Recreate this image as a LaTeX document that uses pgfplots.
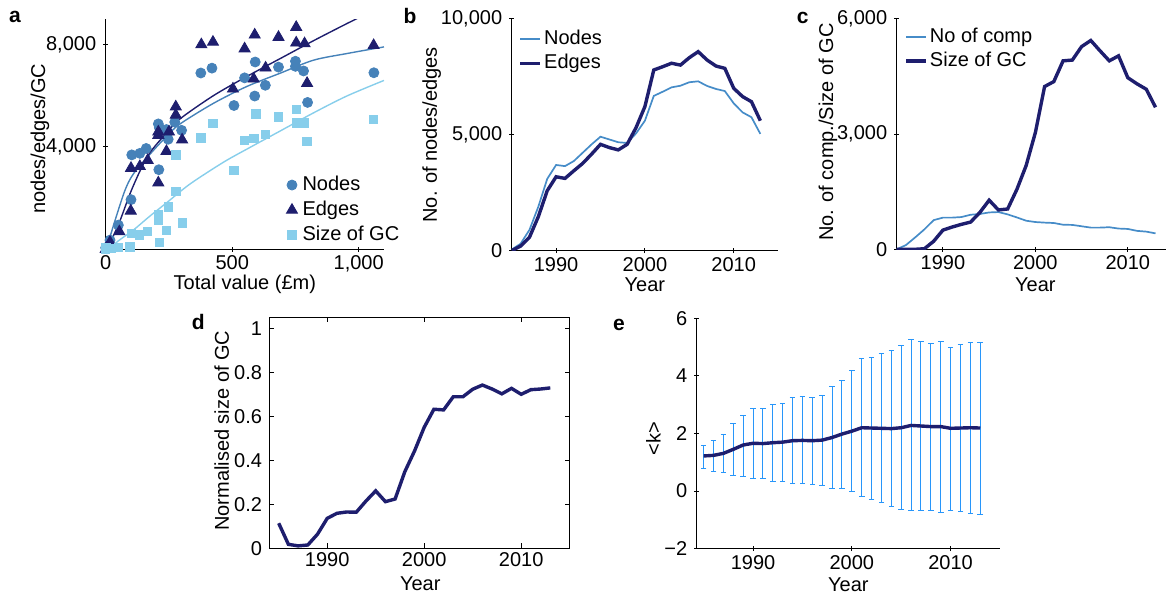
\documentclass[border=0pt]{standalone}
\usepackage{fontspec}
\setmainfont{Liberation Sans}
\usepackage{pgfplots}
\pgfplotsset{compat=1.18}
\usepackage{pgfplotstable}

\definecolor{navyc}{RGB}{30,30,110}
\definecolor{medb}{RGB}{70,130,185}
\definecolor{lightb}{RGB}{135,206,235}
\definecolor{lineb}{RGB}{70,140,200}
\definecolor{errb}{RGB}{40,150,250}

% panel a scatter data
\pgfplotstableread{
x y
0 60
5 20
17 360
50 945
100 1940
103 3690
135 3750
160 3940
208 4900
212 4750
210 3110
240 4680
247 4300
273 4970
300 4650
376 6890
420 7080
507 5620
549 6700
589 5990
591 7320
631 6410
683 7120
750 7350
750 7150
782 6970
798 5740
1060 6900
}\tabAnodes
\pgfplotstableread{
x y
0 0
5 50
17 280
54 690
99 1500
100 3170
135 3240
166 3480
208 4590
208 4460
250 4590
240 3830
208 2600
277 5570
277 5250
302 4280
378 8000
424 8100
549 7840
503 6270
589 8380
585 6660
632 7090
683 8290
753 8680
753 8070
786 8040
796 6490
1059 7970
}\tabAedges
\pgfplotstableread{
x y
0 0
1 65
20 40
50 65
96 90
102 620
133 555
166 710
208 1355
208 1135
212 270
247 1650
240 750
277 2260
302 1030
277 3690
376 4360
424 4910
506 3080
549 4260
585 4330
593 5290
631 4490
683 5170
753 5460
753 4940
786 4940
796 4210
1059 5070
}\tabAgc
% fitted curves
\pgfplotstableread{
x y
3 30
10 250
37 1130
76 2300
109 2940
175 3715
241 4420
294 4900
425 5700
557 6360
689 6880
821 7390
953 7650
1100 7910
}\tabAfitN
\pgfplotstableread{
x y
5 0
17 230
57 1130
96 2170
136 3070
175 3780
241 4555
294 5100
425 6000
557 6750
689 7450
821 8150
939 8750
1000 9050
}\tabAfitE
\pgfplotstableread{
x y
0 0
17 40
50 330
109 750
175 1300
241 1820
333 2550
465 3400
570 3980
689 4620
821 5330
953 5990
1100 6600
}\tabAfitG

\pgfplotstableread{
year nodes edges
1985 50 0
1986 300 200
1987 900 580
1988 1900 1470
1989 3100 2590
1990 3700 3190
1991 3650 3120
1992 3870 3450
1993 4230 3770
1994 4590 4170
1995 4920 4590
1996 4800 4450
1997 4680 4350
1998 4650 4590
1999 5060 5310
2000 5610 6220
2001 6680 7800
2002 6860 7940
2003 7050 8090
2004 7120 8010
2005 7270 8330
2006 7310 8590
2007 7110 8230
2008 6980 7970
2009 6890 7870
2010 6360 7010
2011 5970 6650
2012 5760 6430
2013 5040 5610
}\tabB

\pgfplotstableread{
year comp gc
1985 0 0
1986 110 0
1987 310 0
1988 520 15
1989 760 210
1990 825 500
1991 825 580
1992 840 650
1993 900 710
1994 920 960
1995 960 1280
1996 970 1025
1997 910 1050
1998 830 1560
1999 745 2180
2000 710 3040
2001 695 4240
2002 685 4370
2003 640 4910
2004 635 4930
2005 600 5280
2006 565 5440
2007 565 5170
2008 575 4910
2009 540 5040
2010 530 4470
2011 480 4310
2012 460 4170
2013 415 3700
}\tabC

\pgfplotstableread{
year val
1985 0.114
1986 0.018
1987 0.011
1988 0.015
1989 0.064
1990 0.136
1991 0.159
1992 0.165
1993 0.164
1994 0.215
1995 0.261
1996 0.212
1997 0.224
1998 0.348
1999 0.442
2000 0.550
2001 0.632
2002 0.629
2003 0.689
2004 0.689
2005 0.723
2006 0.742
2007 0.724
2008 0.702
2009 0.727
2010 0.700
2011 0.721
2012 0.724
2013 0.729
}\tabD

\pgfplotstableread{
year mean ep em
1985 1.22 0.38 0.43
1986 1.24 0.51 0.56
1987 1.31 0.64 0.67
1988 1.45 0.88 0.90
1989 1.60 1.04 1.08
1990 1.66 1.22 1.23
1991 1.65 1.21 1.22
1992 1.68 1.33 1.33
1993 1.70 1.34 1.35
1994 1.75 1.49 1.49
1995 1.76 1.52 1.51
1996 1.75 1.51 1.52
1997 1.77 1.56 1.56
1998 1.86 1.76 1.76
1999 1.98 1.87 1.88
2000 2.08 2.12 2.11
2001 2.20 2.39 2.39
2002 2.19 2.44 2.47
2003 2.18 2.60 2.58
2004 2.17 2.70 2.70
2005 2.20 2.86 2.84
2006 2.28 2.97 2.97
2007 2.26 2.93 2.95
2008 2.24 2.90 2.93
2009 2.24 2.97 2.98
2010 2.18 2.80 2.84
2011 2.19 2.91 2.90
2012 2.20 2.97 2.99
2013 2.19 2.98 2.99
}\tabE

\pgfplotsset{
  base/.style={
    scale only axis,
    font=\fontsize{10}{12}\selectfont,
    tick label style={font=\fontsize{10}{12}\selectfont},
    x tick label style={yshift=1.5pt},
    /pgf/number format/assume math mode=true,
    scaled ticks=false,
    tick align=inside,
    major tick length=2.5pt,
    axis line style={black, line width=0.5pt},
    every tick/.style={black, line width=0.5pt},
    legend cell align=left,
  },
  spines/.style={axis lines=left, axis line style={-}},
  yearx/.style={xtick={1990,2000,2010}, x tick label style={/pgf/number format/1000 sep={}}},
  linelegend/.style={
    legend image code/.code={\draw[##1] (0pt,0pt) -- (10pt,0pt);},
    legend style={draw=none, fill=none, inner sep=0pt, row sep=0pt,
      nodes={inner xsep=1pt, inner ysep=1pt, text height=7.8pt, text depth=2.4pt}},
  },
}

\begin{document}
\begin{tikzpicture}
\useasboundingbox (0pt,0pt) rectangle (583pt,296.5pt);

% ---------- a ----------
\begin{axis}[base, spines,
  at={(52.85pt,171.85pt)}, anchor=south west,
  width=139.15pt, height=115.15pt,
  xmin=0, xmax=1100, ymin=0, ymax=9000,
  xtick={0,500,1000}, ytick={4000,8000},
  /pgf/number format/1000 sep={,},
  xlabel={Total value (£m)}, ylabel={nodes/edges/GC},
  xlabel style={at={(axis description cs:0.5,-0.152)}, anchor=center},
  ylabel style={at={(axis description cs:-0.236,0.48)}, anchor=center},
  legend image code/.code={\draw[mark repeat=2,mark phase=2,#1] plot coordinates {(0pt,0pt) (4pt,0pt) (8pt,0pt)};},
  legend style={at={(axis description cs:0.648,0.335)}, anchor=north west,
    draw=none, fill=none, inner sep=0pt, row sep=0pt,
    nodes={inner xsep=2.5pt, inner ysep=1pt, text height=8pt, text depth=2.5pt}},
]
\addplot[only marks, mark=*, mark size=2.5pt, color=medb] table[x=x,y=y] \tabAnodes;
\addlegendentry{Nodes}
\addplot[only marks, mark=triangle*, mark size=3.2pt, color=navyc] table[x=x,y=y] \tabAedges;
\addlegendentry{Edges}
\addplot[only marks, mark=square*, mark size=2.1pt, color=lightb] table[x=x,y=y] \tabAgc;
\addlegendentry{Size of GC}
\addplot[forget plot, medb, line width=0.7pt, smooth] table[x=x,y=y] \tabAfitN;
\addplot[forget plot, navyc, line width=0.7pt, smooth] table[x=x,y=y] \tabAfitE;
\addplot[forget plot, lightb, line width=0.7pt, smooth] table[x=x,y=y] \tabAfitG;
\end{axis}

% ---------- b ----------
\begin{axis}[base, spines, yearx, linelegend,
  at={(255.85pt,171.15pt)}, anchor=south west,
  width=133.2pt, height=115.85pt,
  xmin=1985, xmax=2015, ymin=0, ymax=10000,
  ytick={0,5000,10000},
  y tick label style={/pgf/number format/1000 sep={,}},
  xlabel={Year}, ylabel={No. of nodes/edges},
  xlabel style={at={(axis description cs:0.5,-0.148)}, anchor=center},
  ylabel style={at={(axis description cs:-0.30,0.5)}, anchor=center},
  legend style={at={(axis description cs:0.025,0.968)}, anchor=north west},
]
\addplot[lineb, line width=0.85pt] table[x=year,y=nodes] \tabB;
\addlegendentry{Nodes}
\addplot[navyc, line width=1.7pt] table[x=year,y=edges] \tabB;
\addlegendentry{Edges}
\end{axis}

% ---------- c ----------
\begin{axis}[base, spines, yearx, linelegend,
  at={(448.35pt,171.85pt)}, anchor=south west,
  width=138.65pt, height=115.15pt,
  xmin=1985, xmax=2015, ymin=0, ymax=6000,
  ytick={0,3000,6000},
  y tick label style={/pgf/number format/1000 sep={,}},
  xlabel={Year}, ylabel={No. of comp./Size of GC},
  xlabel style={at={(axis description cs:0.5,-0.152)}, anchor=center},
  ylabel style={at={(axis description cs:-0.248,0.509)}, anchor=center},
  legend style={at={(axis description cs:0.027,0.978)}, anchor=north west},
]
\addplot[lineb, line width=0.85pt] table[x=year,y=comp] \tabC;
\addlegendentry{No of comp}
\addplot[navyc, line width=1.7pt] table[x=year,y=gc] \tabC;
\addlegendentry{Size of GC}
\end{axis}

% ---------- d ----------
\begin{axis}[base, yearx,
  at={(134.5pt,22.35pt)}, anchor=south west,
  width=150.35pt, height=115.5pt,
  xmin=1984, xmax=2015, ymin=0, ymax=1.05,
  ytick={0,0.2,0.4,0.6,0.8,1},
  xtick pos=both, ytick pos=both,
  xlabel={Year}, ylabel={Normalised size of GC},
  xlabel style={at={(axis description cs:0.503,-0.155)}, anchor=center},
  ylabel style={at={(axis description cs:-0.157,0.509)}, anchor=center},
]
\addplot[navyc, line width=1.7pt] table[x=year,y=val] \tabD;
\end{axis}

% ---------- e ----------
\begin{axis}[base, spines, yearx,
  at={(348.35pt,22.15pt)}, anchor=south west,
  width=151.65pt, height=115.2pt,
  xmin=1984.3, xmax=2015, ymin=-2, ymax=6,
  ytick={-2,0,2,4,6}, yticklabels={−2,0,2,4,6},
  xlabel={Year}, ylabel={<k>},
  xlabel style={at={(axis description cs:0.5,-0.155)}, anchor=center},
  ylabel style={at={(axis description cs:-0.143,0.479)}, anchor=center},
]
\addplot[draw=none, mark=none, forget plot,
  error bars/.cd, y dir=both, y explicit,
  error bar style={draw=errb, line width=0.5pt},
  error mark options={draw=errb, rotate=90, mark size=1.4pt, line width=0.5pt}]
  table[x=year, y=mean, y error plus=ep, y error minus=em] \tabE;
\addplot[navyc, line width=1.7pt] table[x=year,y=mean] \tabE;
\end{axis}

% panel letters
\node[font=\bfseries\fontsize{10.5}{12}\selectfont, anchor=base] at (7.5pt,285.15pt) {a};
\node[font=\bfseries\fontsize{10.5}{12}\selectfont, anchor=base] at (205pt,284.85pt) {b};
\node[font=\bfseries\fontsize{10.5}{12}\selectfont, anchor=base] at (401.35pt,284.5pt) {c};
\node[font=\bfseries\fontsize{10.5}{12}\selectfont, anchor=base] at (99.15pt,131.85pt) {d};
\node[font=\bfseries\fontsize{10.5}{12}\selectfont, anchor=base] at (309.5pt,131.15pt) {e};
\end{tikzpicture}
\end{document}
